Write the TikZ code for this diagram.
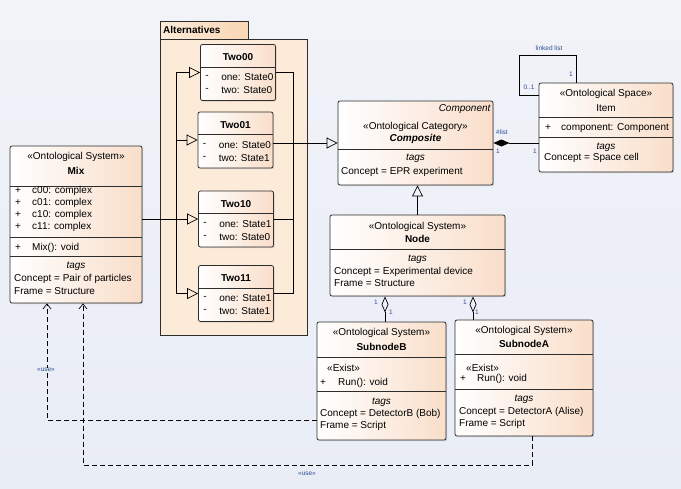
\documentclass[tikz,border=0pt]{standalone}
\usepackage{fontspec}
\setmainfont{Liberation Sans}
\usepackage{tikz}
\usetikzlibrary{arrows.meta,positioning,calc,shadows}
\definecolor{bgtop}{RGB}{241,243,248}
\definecolor{bgblue}{RGB}{233,237,246}
\definecolor{peach}{RGB}{249,222,202}
\definecolor{pkgfill}{RGB}{253,235,218}
\definecolor{tabfill}{RGB}{250,214,180}
\definecolor{edgegray}{RGB}{45,45,45}
\definecolor{labelblue}{RGB}{45,75,150}

\begin{document}
\begin{tikzpicture}[x=1pt,y=-1pt,font=\fontsize{10}{12}\selectfont,
  cls/.style={draw=edgegray,line width=0.8pt,rounded corners=2pt,left color=white,right color=peach,inner sep=0pt,
    drop shadow={shadow xshift=1.2pt,shadow yshift=-1.2pt,opacity=0.25}},
  txt/.style={inner sep=0pt,anchor=west},
  ctr/.style={inner sep=0pt},
  sep/.style={draw=edgegray,line width=0.7pt},
  wire/.style={draw=black,line width=0.7pt},
  lab/.style={inner sep=0pt,font=\fontsize{6.5}{7.5}\selectfont,text=labelblue},
  gen/.style={wire,-{Triangle[open,length=11pt,width=11pt]}},
  compo/.style={wire,{Diamond[length=16pt,width=7pt]}-},
  aggr/.style={wire,{Diamond[open,length=16pt,width=7pt]}-},
  dep/.style={wire,dash pattern=on 5pt off 3pt,-{Straight Barb[length=5pt,width=8pt]}}]
\useasboundingbox (0,0) rectangle (681,488);
\shade[top color=bgtop,bottom color=bgblue] (0,0) rectangle (681,488);

% package
\draw[draw=edgegray,line width=0.8pt,fill=pkgfill] (160,39) rectangle (307,335);
\draw[draw=edgegray,line width=0.8pt,left color=pkgfill,right color=tabfill] (160,21) rectangle (248,39);
\node[txt] (pkg) at (163,30) {\textbf{Alternatives}};

% Mix
\node[cls,minimum width=132pt,minimum height=157pt] (mix) at (76,224.5) {};
\node[ctr] (mixS) at (76,157) {«Ontological System»};
\node[ctr] (mixN) at (76,171) {\textbf{Mix}};
\draw[sep] (10,186.7) -- (142,186.7);
\foreach \n/\yy in {00/190.7,01/202.5,10/215,11/227}{
  \node[txt] (mixP\n) at (15,\yy) {+};
  \node[txt] (mixA\n) at (32,\yy) {c\n: complex};
}
\draw[sep] (10,237.7) -- (142,237.7);
\node[txt] (mixP) at (15,247.7) {+};
\node[txt] (mixO) at (32,247.7) {Mix(): void};
\draw[sep] (10,256.7) -- (142,256.7);
\node[ctr] (mixT) at (76,266.7) {\textit{tags}};
\node[txt] (mixC) at (14,278.5) {Concept = Pair of particles};
\node[txt] (mixF) at (14,291) {Frame = Structure};

% Two00 .. Two11
\foreach \k/\cx/\cy/\a/\b in {00/238/72.5/0/0,01/235.5/140/0/1,10/236/219/1/0,11/236/293.5/1/1}{
  \node[cls,minimum width=75pt,minimum height=56pt] (two\k) at (\cx,\cy) {};
  \node[ctr] (nm\k) at ($(two\k.north)+(0,13)$) {\textbf{Two\k}};
  \draw[sep] ($(two\k.north west)+(0,23)$) -- ($(two\k.north east)+(0,23)$);
  \node[txt] (da\k) at ($(two\k.north west)+(5,33)$) {-};
  \node[txt] (on\k) at ($(two\k.north west)+(21,33)$) {one: State\a};
  \node[txt] (db\k) at ($(two\k.north west)+(5,46)$) {-};
  \node[txt] (tw\k) at ($(two\k.north west)+(21,46)$) {two: State\b};
}

% Composite
\node[cls,minimum width=155pt,minimum height=84pt] (comp) at (415.5,143) {};
\node[ctr,anchor=east] (compK) at (491,109) {\textit{Component}};
\node[ctr] (compS) at (415.5,127) {«Ontological Category»};
\node[ctr] (compN) at (415.5,138.5) {\textbf{\textit{Composite}}};
\draw[sep] (338,149) -- (493,149);
\node[ctr] (compT) at (415.5,158) {\textit{tags}};
\node[txt] (compC) at (341,172) {Concept = EPR experiment};

% Item
\node[cls,minimum width=134pt,minimum height=89pt] (item) at (606,127.5) {};
\node[ctr] (itemS) at (606,94) {«Ontological Space»};
\node[ctr] (itemN) at (606,108) {Item};
\draw[sep] (539,117) -- (673,117);
\node[txt] (itemP) at (545,128) {+};
\node[txt] (itemA) at (561,128) {component: Component};
\draw[sep] (539,137) -- (673,137);
\node[ctr] (itemT) at (606,147) {\textit{tags}};
\node[txt] (itemC) at (544,158) {Concept = Space cell};

% Node
\node[cls,minimum width=175pt,minimum height=81pt] (sysnode) at (417.5,255.5) {};
\node[ctr] (sysS) at (417.5,227) {«Ontological System»};
\node[ctr] (sysN) at (417.5,238.5) {\textbf{Node}};
\draw[sep] (330,249) -- (505,249);
\node[ctr] (sysT) at (417.5,259) {\textit{tags}};
\node[txt] (sysC) at (334,272) {Concept = Experimental device};
\node[txt] (sysF) at (334,283.5) {Frame = Structure};

% SubnodeB
\node[cls,minimum width=129pt,minimum height=118pt] (subB) at (381.5,381) {};
\node[ctr] (subBS) at (381.5,333) {«Ontological System»};
\node[ctr] (subBN) at (381.5,347) {\textbf{SubnodeB}};
\draw[sep] (317,357) -- (446,357);
\node[txt] (subBE) at (327,368) {«Exist»};
\node[txt] (subBP) at (320,383) {+};
\node[txt] (subBO) at (338,383) {Run(): void};
\draw[sep] (317,391) -- (446,391);
\node[ctr] (subBT) at (381.5,402) {\textit{tags}};
\node[txt] (subBC) at (320,414) {Concept = DetectorB (Bob)};
\node[txt] (subBF) at (320,426) {Frame = Script};

% SubnodeA
\node[cls,minimum width=138pt,minimum height=116pt] (subA) at (524,378) {};
\node[ctr] (subAS) at (524,331) {«Ontological System»};
\node[ctr] (subAN) at (524,344) {\textbf{SubnodeA}};
\draw[sep] (455,354) -- (593,354);
\node[txt] (subAE) at (466,367.5) {«Exist»};
\node[txt] (subAP) at (460,379) {+};
\node[txt] (subAO) at (477,379) {Run(): void};
\draw[sep] (455,389) -- (593,389);
\node[ctr] (subAT) at (524,399) {\textit{tags}};
\node[txt] (subAC) at (459,412) {Concept = DetectorA (Alise)};
\node[txt] (subAF) at (459,423.5) {Frame = Script};

% generalizations into the Two boxes
\coordinate (lbus) at (176,0);
\coordinate (rbus) at (293,0);
\draw[wire] (lbus |- two00.west) -- (lbus |- two11.west);
\foreach \k in {00,01,10,11} \draw[gen] (lbus |- two\k.west) -- (two\k.west);
\draw[wire] (mix.east |- two10.west) -- (lbus |- two10.west);

% Two boxes to Composite
\draw[wire] (two00.east) -- (rbus |- two00.east) -- (rbus |- two11.east) -- (two11.east);
\draw[wire] (two10.east) -- (rbus |- two10.east);
\draw[gen] (two01.east |- comp.west) -- (comp.west);
\draw[gen] (sysnode.north) -- (sysnode.north |- comp.south);

% composition and linked list
\draw[compo] (comp.east) -- (comp.east -| item.west);
\node[lab,anchor=west] (listL) at (496,132) {\#list};
\node[lab] (cmp1) at (498,151) {1};
\node[lab] (cmp2) at (535,151) {1};
\coordinate (loopA) at (519,55);
\draw[wire] ($(item.north west)+(0,13)$) -| (loopA) -| ($(item.north west)+(38,0)$);
\node[lab] (loopL) at (549,48) {linked list};
\node[lab] (loop1) at (571,74) {1};
\node[lab] (loop2) at (529,87) {0..1};

% aggregations
\coordinate (agB) at (385,0);
\coordinate (agA) at (473,0);
\draw[aggr] (agB |- sysnode.south) -- (agB |- subB.north);
\draw[aggr] (agA |- sysnode.south) -- (agA |- subA.north);
\node[lab] (agB1) at (376,302) {1};
\node[lab] (agB2) at (391,312) {1};
\node[lab] (agA1) at (465,302) {1};
\node[lab] (agA2) at (477,312) {1};

% use dependencies
\coordinate (useB) at (47,0);
\coordinate (useA) at (83,0);
\coordinate (depA) at (532,465);
\draw[dep] ($(subB.south west)+(0,-20)$) -| (useB |- mix.south);
\draw[dep] (depA |- subA.south) -- (depA) -| (useA |- mix.south);
\node[lab,fill=bgblue,inner sep=0.5pt] (useL1) at (46,370) {«use»};
\node[lab] (useL2) at (307,474) {«use»};
\end{tikzpicture}
\end{document}
